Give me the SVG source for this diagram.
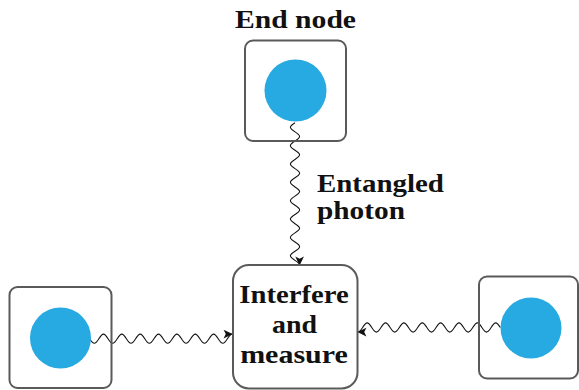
<svg xmlns="http://www.w3.org/2000/svg" width="579" height="390" viewBox="0 0 579 390">
<style>
.box{fill:none;stroke:#5a5a5a;stroke-width:2}
.dot{fill:#27a9e1}
.wave{fill:none;stroke:#111;stroke-width:1.1;marker-end:url(#arr)}
</style>
<defs>
<marker id="arr" markerUnits="userSpaceOnUse" markerWidth="12" markerHeight="12" viewBox="-8 -5 10 10" refX="0" refY="0" orient="auto" overflow="visible">
<path d="M0.5,0 L-7,-3.6 L-5.2,0 L-7,3.6 Z" fill="#111"/>
</marker>
</defs>
<rect width="579" height="390" fill="#fff"/>
<g id="connectors">
<path class="wave" d="M89.7 338.7 c3.896,6.13 5.284,6.13 9.18,0 s5.284,-6.13 9.18,0 s5.284,6.13 9.18,0 s5.284,-6.13 9.18,0 s5.284,6.13 9.18,0 s5.284,-6.13 9.18,0 s5.284,6.13 9.18,0 s5.284,-6.13 9.18,0 s5.284,6.13 9.18,0 s5.284,-6.13 9.18,0 s5.284,6.13 9.18,0 s5.284,-6.13 9.18,0 s5.284,6.13 9.18,0 s5.284,-6.13 9.18,0 s5.284,6.13 9.18,0 c1.496,-2.355 2.924,-4.6 4.59,-4.6"/>
<path class="wave" d="M500.3 327.5 c-3.896,-6.13 -5.284,-6.13 -9.18,0 s-5.284,6.13 -9.18,0 s-5.284,-6.13 -9.18,0 s-5.284,6.13 -9.18,0 s-5.284,-6.13 -9.18,0 s-5.284,6.13 -9.18,0 s-5.284,-6.13 -9.18,0 s-5.284,6.13 -9.18,0 s-5.284,-6.13 -9.18,0 s-5.284,6.13 -9.18,0 s-5.284,-6.13 -9.18,0 s-5.284,6.13 -9.18,0 s-5.284,-6.13 -9.18,0 s-5.284,6.13 -9.18,0 s-5.284,-6.13 -9.18,0 c-1.496,2.355 -2.924,4.6 -4.59,4.6"/>
<path class="wave" d="M295 122.7 c-6.13,3.896 -6.13,5.284 0,9.18 s6.13,5.284 0,9.18 s-6.13,5.284 0,9.18 s6.13,5.284 0,9.18 s-6.13,5.284 0,9.18 s6.13,5.284 0,9.18 s-6.13,5.284 0,9.18 s6.13,5.284 0,9.18 s-6.13,5.284 0,9.18 s6.13,5.284 0,9.18 s-6.13,5.284 0,9.18 s6.13,5.284 0,9.18 s-6.13,5.284 0,9.18 s6.13,5.284 0,9.18 s-6.13,5.284 0,9.18 c2.355,1.496 4.6,2.924 4.6,4.59"/>
</g>
<g id="end-node">
<rect class="box" x="245" y="40.5" width="101" height="100.5" rx="8"/>
<circle class="dot" cx="295.5" cy="90.5" r="31"/>
<text font-family="'Liberation Serif'" font-weight="bold" font-size="25" fill="#111" x="0" y="0" text-anchor="middle" transform="translate(295.5 27.5) scale(1.185 1)">End node</text>
</g>
<g id="left-node">
<rect class="box" x="9.5" y="287" width="102" height="101" rx="8"/>
<circle class="dot" cx="60.5" cy="338" r="30.5"/>
</g>
<g id="right-node">
<rect class="box" x="479" y="276.5" width="99" height="102" rx="8"/>
<circle class="dot" cx="531" cy="328" r="30.5"/>
</g>
<g id="measure-node">
<rect class="box" x="233" y="265" width="124.5" height="123.5" rx="16"/>
<text font-family="'Liberation Serif'" font-weight="bold" font-size="25" fill="#111" x="0" y="0" text-anchor="middle" transform="translate(294 303) scale(1.148 1)">Interfere</text>
<text font-family="'Liberation Serif'" font-weight="bold" font-size="25" fill="#111" x="0" y="0" text-anchor="middle" transform="translate(294.5 333) scale(1.117 1)">and</text>
<text font-family="'Liberation Serif'" font-weight="bold" font-size="25" fill="#111" x="0" y="0" text-anchor="middle" transform="translate(294 363) scale(1.2 1)">measure</text>
</g>
<g id="photon-label">
<text font-family="'Liberation Serif'" font-weight="bold" font-size="25" fill="#111" x="0" y="0" transform="translate(317 192) scale(1.157 1)">Entangled</text>
<text font-family="'Liberation Serif'" font-weight="bold" font-size="25" fill="#111" x="0" y="0" transform="translate(317 219) scale(1.173 1)">photon</text>
</g>
</svg>
